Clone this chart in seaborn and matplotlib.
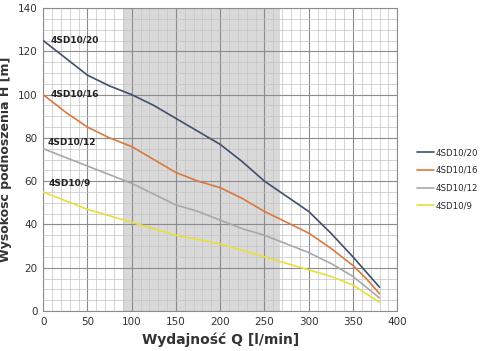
import pandas as pd
import numpy as np
import seaborn as sns
import matplotlib.pyplot as plt
from matplotlib.ticker import MultipleLocator

# flow Q [l/min]
q = [0, 25, 50, 75, 100, 125, 150, 175, 200, 225, 250, 275, 300, 325, 350, 365, 380]
h_20 = [125, 117, 109, 104, 100, 95, 89, 83, 77, 69, 60, 53, 46, 36, 25, 18, 11]
h_16 = [100, 92, 85, 80, 76, 70, 64, 60, 57, 52, 46, 41, 36, 29, 21, 15, 8]
h_12 = [75, 71, 67, 63, 59, 54, 49, 46, 42, 38, 35, 31, 27, 22, 16, 11, 6]
h_9 = [55, 51, 47, 44, 41, 38, 35, 33, 31, 28, 25, 22, 19, 16, 12, 8, 4]
names = ['4SD10/20', '4SD10/16', '4SD10/12', '4SD10/9']
colors = ['#3f4f6e', '#d9783f', '#a8a8a8', '#e6df3c']
label_pos = [(8, 124), (8, 99), (5, 77), (6, 58)]

rows = []
for n, h in zip(names, [h_20, h_16, h_12, h_9]):
    for x, y in zip(q, h):
        rows.append({'Q': x, 'H': y, 'pump': n})
df = pd.DataFrame(rows)

sns.set_style('white')
plt.rcParams['font.family'] = ['DejaVu Sans']

fig = plt.figure(figsize=(4.85, 3.51), dpi=100)
ax = fig.add_axes([0.089, 0.114, 0.730, 0.863])

ax.axvspan(90, 268, color='#d9d9d9', zorder=0, lw=0)

sns.lineplot(data=df, x='Q', y='H', hue='pump', palette=colors, hue_order=names,
             ax=ax, lw=1.2, zorder=3)

ax.set_xlim(0, 400)
ax.set_ylim(0, 140)
ax.xaxis.set_major_locator(MultipleLocator(50))
ax.xaxis.set_minor_locator(MultipleLocator(10))
ax.yaxis.set_major_locator(MultipleLocator(20))
ax.yaxis.set_minor_locator(MultipleLocator(5))
ax.grid(which='major', color='#8c8c8c', lw=0.8, zorder=1)
ax.grid(which='minor', color='#c4c4c4', lw=0.5, zorder=1)
ax.set_axisbelow(False)
for s in ax.spines.values():
    s.set_color('#8c8c8c')
    s.set_linewidth(0.8)
ax.tick_params(which='both', length=0, labelsize=7.5, pad=4, colors='#333333')

for n, (x, y) in zip(names, label_pos):
    ax.text(x, y, n, fontsize=6.5, fontweight='bold', color='#222222', zorder=5)

ax.set_xlabel('Wydajność Q [l/min]', fontsize=10, fontweight='bold', color='#333333')
ax.set_ylabel('Wysokość podnoszenia H [m]', fontsize=9, fontweight='bold', color='#333333')

ax.legend(loc='center left', bbox_to_anchor=(1.055, 0.435), frameon=False,
          fontsize=6.2, handlelength=2.0, handletextpad=0.15, labelspacing=1.0,
          borderaxespad=0, borderpad=0, title=None)

fig.savefig('out.png', dpi=100)
